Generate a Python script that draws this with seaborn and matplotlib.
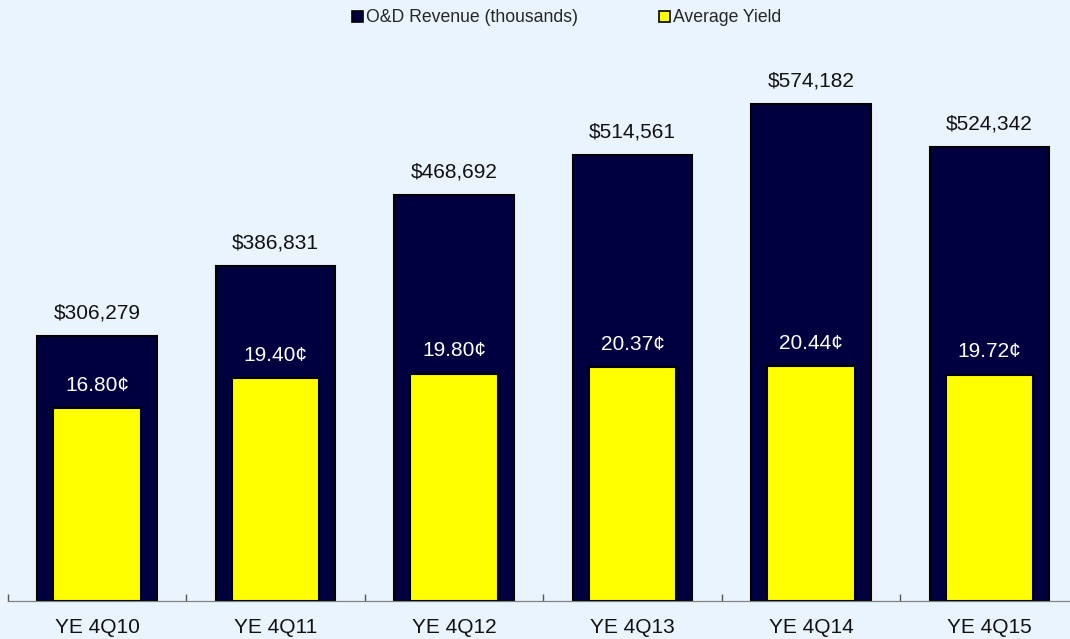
import numpy as np
import pandas as pd
import matplotlib
matplotlib.use("Agg")
import matplotlib.pyplot as plt
from matplotlib.patches import Patch
import seaborn as sns

periods = ["YE 4Q10", "YE 4Q11", "YE 4Q12", "YE 4Q13", "YE 4Q14", "YE 4Q15"]
revenue = [306279, 386831, 468692, 514561, 574182, 524342]
yield_cents = [16.80, 19.40, 19.80, 20.37, 20.44, 19.72]

bg = "#eaf4ff"
navy = "#000040"
yellow = "#ffff00"

sns.set_style("white")
plt.rcParams["font.family"] = ["Liberation Sans", "DejaVu Sans"]

df = pd.DataFrame({"period": periods, "revenue": revenue, "yield": yield_cents})

fig = plt.figure(figsize=(10.7, 6.39), dpi=100, facecolor=bg)
# axes runs slightly past the right edge of the image, like the original
ax = fig.add_axes([8 / 1070, 38 / 639, 1070.5 / 1070, 596 / 639])
ax.set_facecolor(bg)

sns.barplot(data=df, x="period", y="revenue", color=navy, width=0.67,
            edgecolor="black", linewidth=1.5, saturation=1, ax=ax)
ax.set_ylim(0, 688000)
ax.set_xlim(-0.5, len(periods) - 0.5)

ax2 = ax.twinx()
sns.barplot(data=df, x="period", y="yield", color=yellow, width=0.49,
            edgecolor="black", linewidth=1.5, saturation=1, ax=ax2)
ax2.set_ylim(0, 51.9)
ax2.set_xlim(-0.5, len(periods) - 0.5)

for i, v in enumerate(revenue):
    ax.annotate(f"${v:,}", (i, v), xytext=(0, 16.5), textcoords="offset points",
                ha="center", va="center", fontsize=15, color="#111111")
for i, v in enumerate(yield_cents):
    ax2.annotate(f"{v:.2f}¢", (i, v), xytext=(0, 16.5), textcoords="offset points",
                 ha="center", va="center", fontsize=15, color="white")

for a in (ax, ax2):
    for s in ("top", "left", "right"):
        a.spines[s].set_visible(False)
    a.set_yticks([])
    a.set_ylabel("")
    a.set_xlabel("")
ax.spines["bottom"].set_color("#7f7f7f")
ax2.spines["bottom"].set_color("#7f7f7f")

ax.tick_params(axis="x", length=0, labelbottom=False)
ax2.xaxis.set_visible(True)
ax2.set_xticks(range(len(periods)))
ax2.set_xticklabels(periods)
ax2.set_xticks(np.arange(-0.5, len(periods), 1.0), minor=True)
ax2.tick_params(axis="x", which="major", direction="in", length=3, width=1,
                color="#555555", pad=12.5, labelsize=15, labelcolor="#111111",
                bottom=True, labelbottom=True)
ax2.tick_params(axis="x", which="minor", direction="in", length=5, width=1,
                color="#555555", bottom=True)

handles = [Patch(facecolor=navy, edgecolor="black", linewidth=1.2),
           Patch(facecolor=yellow, edgecolor="black", linewidth=1.2)]
fig.legend(handles, ["O&D Revenue (thousands)", "Average Yield"],
           loc="center", bbox_to_anchor=(567 / 1070, 1 - 18 / 639), ncol=2,
           frameon=False, fontsize=12.7, handlelength=0.62, handleheight=0.55,
           handletextpad=0.17, columnspacing=4.6)

fig.savefig("out.png", dpi=100, facecolor=bg)
